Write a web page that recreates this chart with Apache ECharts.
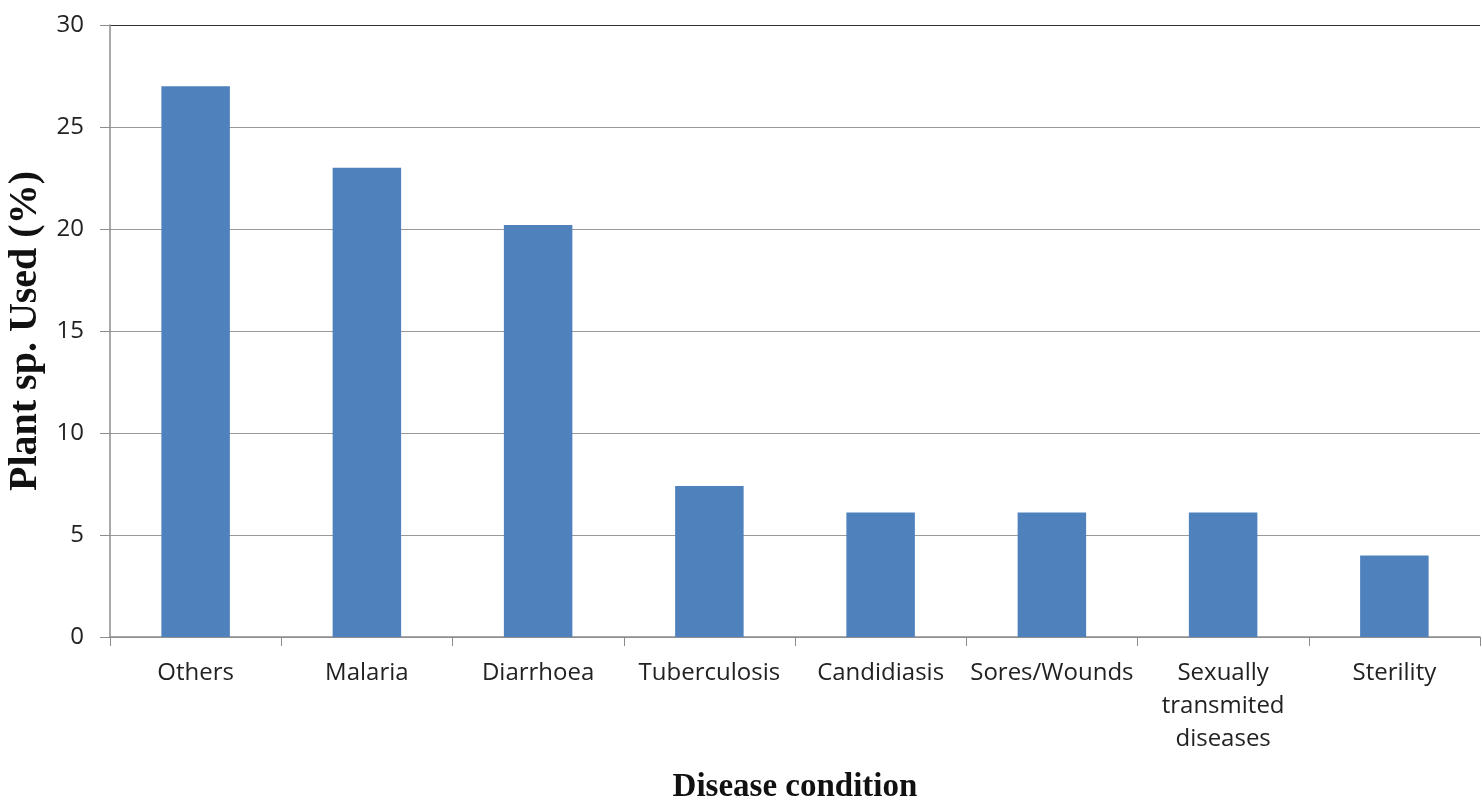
<!DOCTYPE html>
<html><head><meta charset="utf-8">
<script src="https://cdn.jsdelivr.net/npm/echarts@6/dist/echarts.min.js"></script>
<style>html,body{margin:0;padding:0;background:#fff;overflow:hidden}#c{width:1482px;height:801px}</style>
</head><body><div id="c"></div>
<script>
const categories = ["Others","Malaria","Diarrhoea","Tuberculosis","Candidiasis","Sores/Wounds","Sexually\ntransmited\ndiseases","Sterility"];
const values = [27, 23, 20.2, 7.4, 6.1, 6.1, 6.1, 4];
const yTicks = [0, 5, 10, 15, 20, 25, 30];
const xTitle = "Disease condition";
const yTitle = "Plant sp. Used (%)";

const chart = echarts.init(document.getElementById('c'), null, {renderer:'canvas'});
chart.setOption({
  animation:false,
  grid:{left:110, right:2, top:25, bottom:164, containLabel:false, outerBoundsMode:'none'},
  xAxis:{
    type:'category', data:categories,
    name:xTitle, nameLocation:'middle', nameGap:134,
    nameTextStyle:{fontFamily:'Liberation Serif', fontWeight:'bold', fontSize:33, color:'#111'},
    axisLine:{lineStyle:{color:'#8c8c8c', width:1.5}},
    axisTick:{show:true, alignWithLabel:false, length:9, lineStyle:{color:'#8c8c8c'}},
    axisLabel:{fontFamily:'Open Sans', fontSize:24, color:'#222', margin:20, lineHeight:33, interval:0}
  },
  yAxis:{
    type:'value', min:0, max:30, interval:5,
    name:yTitle, nameLocation:'middle', nameGap:60,
    nameTextStyle:{fontFamily:'Liberation Serif', fontWeight:'bold', fontSize:40, color:'#111'},
    axisLine:{show:true, lineStyle:{color:'#8c8c8c', width:1.5}},
    axisTick:{show:true, inside:false, length:10, lineStyle:{color:'#8c8c8c'}},
    axisLabel:{fontFamily:'Open Sans', fontSize:24, color:'#222', margin:26,
      formatter:v=> yTicks.includes(v) ? String(v) : ''},
    splitLine:{show:true, lineStyle:{color:['#999','#999','#999','#999','#999','#999','#333'], width:1.2}}
  },
  series:[{
    type:'bar', data:values, barWidth:'40%',
    itemStyle:{color:'#4F81BD'}
  }]
});
</script></body></html>
